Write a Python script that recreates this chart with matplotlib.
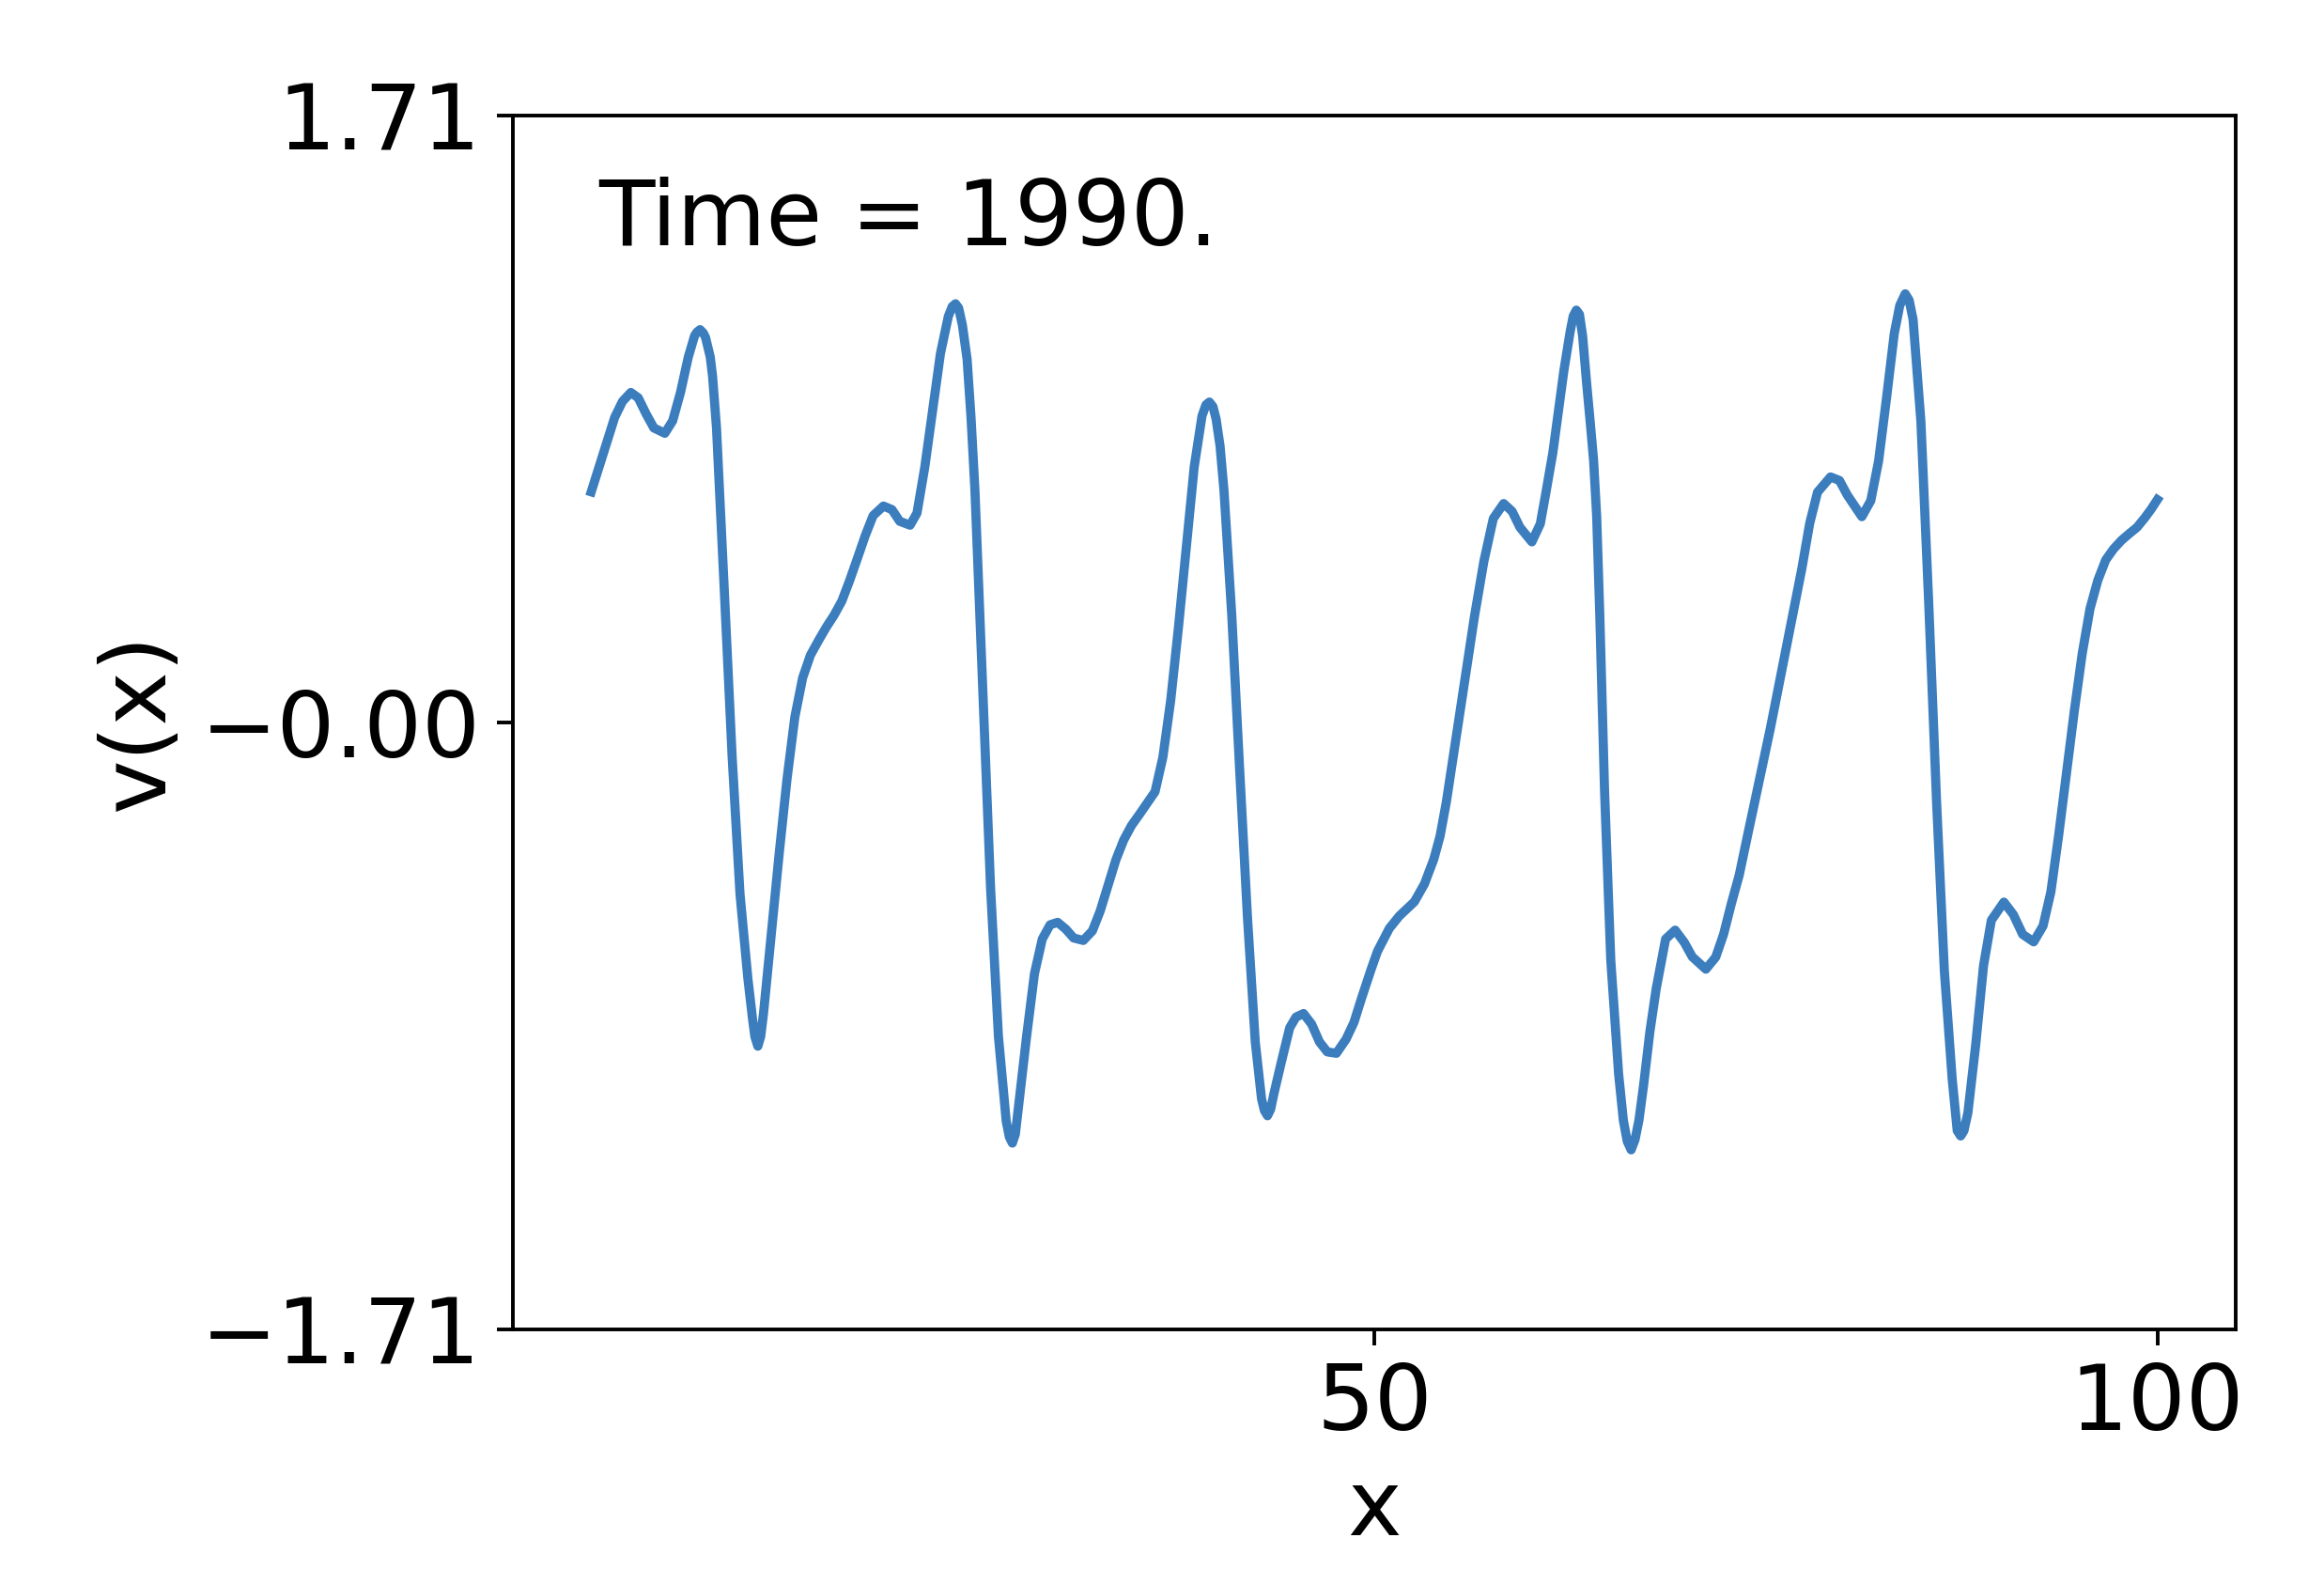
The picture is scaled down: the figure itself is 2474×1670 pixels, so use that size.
import matplotlib
matplotlib.use("Agg")
import matplotlib.pyplot as plt

# values
x_vals = [0, 0.5, 1.0, 1.5, 2.0, 2.53, 3.0, 3.5, 4.0, 4.7, 5.2, 5.7, 6.2, 6.6, 6.75,
          6.95, 7.15, 7.3, 7.6, 7.75, 8.0, 8.5, 9.0, 9.5, 10.0, 10.3, 10.45, 10.64,
          10.82, 11.0, 11.5, 12.0, 12.5, 13.0, 13.5, 14.0, 14.5, 15.0, 15.5, 16.0,
          16.5, 17.0, 17.5, 18.0, 18.66, 19.2, 19.7, 20.36, 20.8, 21.3, 21.8, 22.3,
          22.8, 23.05, 23.26, 23.46, 23.7, 24.0, 24.25, 24.5, 25.0, 25.5, 26.0, 26.5,
          26.7, 26.89, 27.08, 27.3, 27.8, 28.3, 28.8, 29.3, 29.78, 30.3, 30.8, 31.42,
          32.0, 32.5, 33.0, 33.5, 34.0, 34.5, 35.0, 35.5, 36.0, 36.5, 37.0, 37.5, 38.0,
          38.5, 39.0, 39.25, 39.47, 39.7, 39.9, 40.15, 40.4, 40.9, 41.4, 41.9, 42.4,
          42.8, 42.98, 43.18, 43.38, 43.6, 44.1, 44.6, 45.0, 45.48, 46.0, 46.5, 47.0,
          47.58, 48.2, 48.7, 49.2, 49.8, 50.2, 50.96, 51.6, 52.56, 53.2, 53.8, 54.2,
          54.6, 55.2, 55.8, 56.4, 57.0, 57.6, 58.26, 58.8, 59.3, 60.06, 60.6, 60.97,
          61.4, 61.8, 62.1, 62.5, 62.7, 62.9, 63.1, 63.3, 63.55, 63.8, 64.0, 64.2,
          64.4, 64.7, 65.1, 65.6, 65.9, 66.15, 66.4, 66.65, 66.9, 67.2, 67.6, 68.0,
          68.6, 69.21, 69.8, 70.3, 71.17, 71.8, 72.3, 72.8, 73.3, 73.8, 74.3, 74.8,
          75.3, 75.8, 76.3, 76.8, 77.3, 77.8, 78.3, 79.13, 79.7, 80.2, 81.13, 81.7,
          82.2, 82.7, 83.2, 83.55, 83.9, 84.15, 84.4, 84.9, 85.4, 85.9, 86.4, 86.9,
          87.22, 87.44, 87.65, 87.9, 88.4, 88.9, 89.4, 90.2, 90.8, 91.4, 92.1, 92.7,
          93.2, 93.7, 94.2, 94.7, 95.2, 95.7, 96.2, 96.7, 97.2, 97.7, 98.2, 98.7,
          99.2, 99.6, 100.0]

v_vals = [0.65, 0.72, 0.79, 0.86, 0.905, 0.93, 0.915, 0.87, 0.83, 0.815, 0.85, 0.93,
          1.03, 1.09, 1.10, 1.107, 1.098, 1.085, 1.03, 0.975, 0.83, 0.37, -0.098,
          -0.483, -0.72, -0.835, -0.885, -0.912, -0.885, -0.82, -0.594, -0.37, -0.16,
          0.015, 0.126, 0.19, 0.23, 0.268, 0.302, 0.342, 0.40, 0.463, 0.527, 0.583,
          0.61, 0.60, 0.567, 0.556, 0.59, 0.72, 0.88, 1.04, 1.144, 1.172, 1.18, 1.168,
          1.12, 1.024, 0.86, 0.655, 0.094, -0.467, -0.884, -1.124, -1.168, -1.185,
          -1.16, -1.076, -0.884, -0.708, -0.61, -0.57, -0.563, -0.582, -0.607, -0.614,
          -0.587, -0.531, -0.459, -0.387, -0.331, -0.29, -0.259, -0.227, -0.195,
          -0.098, 0.062, 0.27, 0.495, 0.72, 0.864, 0.895, 0.903, 0.89, 0.855, 0.78,
          0.655, 0.302, -0.13, -0.547, -0.9, -1.06, -1.093, -1.108, -1.09, -1.044,
          -0.95, -0.86, -0.83, -0.82, -0.85, -0.9, -0.928, -0.932, -0.892, -0.845,
          -0.775, -0.695, -0.645, -0.58, -0.545, -0.505, -0.455, -0.385, -0.32, -0.224,
          -0.049, 0.127, 0.30, 0.455, 0.575, 0.617, 0.595, 0.55, 0.509, 0.56, 0.651,
          0.76, 0.892, 0.99, 1.10, 1.145, 1.162, 1.15, 1.09, 0.96, 0.84, 0.74, 0.58,
          0.30, -0.19, -0.67, -0.99, -1.12, -1.18, -1.204, -1.175, -1.12, -1.02, -0.87,
          -0.75, -0.61, -0.585, -0.62, -0.66, -0.695, -0.661, -0.597, -0.51, -0.43,
          -0.325, -0.222, -0.118, -0.014, 0.098, 0.21, 0.321, 0.434, 0.561, 0.649,
          0.692, 0.682, 0.641, 0.58, 0.625, 0.737, 0.912, 1.096, 1.175, 1.208, 1.19,
          1.136, 0.849, 0.337, -0.222, -0.701, -1.005, -1.15, -1.165, -1.15, -1.10,
          -0.908, -0.685, -0.557, -0.506, -0.541, -0.597, -0.618, -0.573, -0.477,
          -0.317, -0.142, 0.034, 0.194, 0.321, 0.401, 0.458, 0.489, 0.513, 0.532,
          0.55, 0.577, 0.601, 0.628]

y_lim = 1.71
x_ticks = [50, 100]
y_ticks = [-1.71, 0.0, 1.71]
y_tick_labels = ["\u22121.71", "\u22120.00", "1.71"]
time_label = "Time = 1990."


def main():
    fig = plt.figure(figsize=(2474 / 350, 1670 / 350), dpi=350)
    ax = fig.add_axes([0.2207, 0.1527, 0.7413, 0.7736])

    ax.plot(x_vals, v_vals, color="#3b7dbd", linewidth=2.0)

    ax.set_xlim(-5, 105)
    ax.set_ylim(-y_lim, y_lim)
    ax.set_xticks(x_ticks)
    ax.set_yticks(y_ticks)
    ax.set_yticklabels(y_tick_labels)
    ax.tick_params(labelsize=20)

    ax.set_xlabel("x", fontsize=20)
    ax.set_ylabel("v(x)", fontsize=20)

    ax.text(0.05, 0.95, time_label, transform=ax.transAxes,
            fontsize=20, va="top", ha="left")

    fig.savefig("out.png", dpi=350)


if __name__ == "__main__":
    main()
